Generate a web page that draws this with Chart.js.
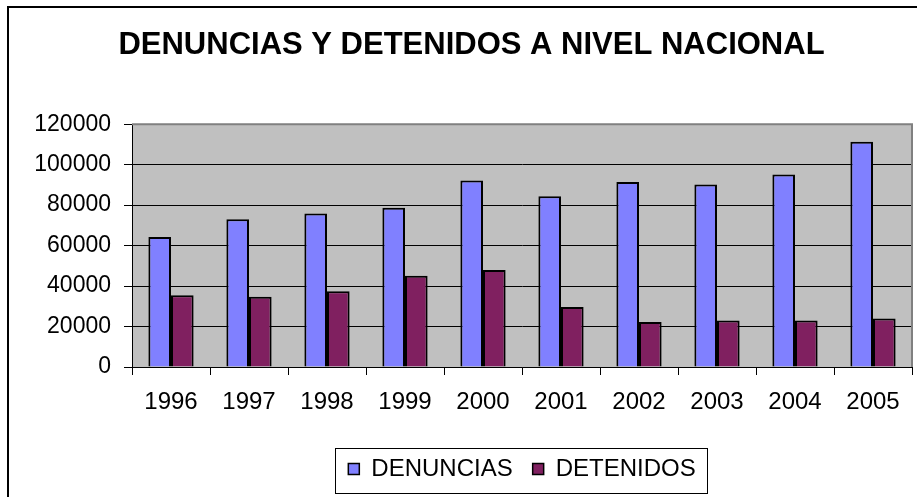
<!DOCTYPE html>
<html>
<head>
<meta charset="utf-8">
<script src="https://cdn.jsdelivr.net/npm/chart.js@4"></script>
<style>
  html, body { margin: 0; padding: 0; background: #fff; }
  #wrap { width: 917px; height: 497px; }
</style>
</head>
<body>
<div id="wrap"><canvas id="chartCanvas" width="917" height="497"></canvas></div>
<script>
// --- data ---
const years = ['1996', '1997', '1998', '1999', '2000', '2001', '2002', '2003', '2004', '2005'];
const denuncias = [64300, 73000, 75900, 78700, 92200, 84400, 91400, 90200, 95100, 111300];
const detenidos = [35500, 34700, 37400, 45100, 47900, 29600, 22200, 23000, 23000, 24000];
const yTicks = [0, 20000, 40000, 60000, 80000, 100000, 120000];

const FONT = 'Arial, "Liberation Sans", sans-serif';

// frame around the whole chart, gray plot background, border round legend
const decor = {
    id: 'decor',
    beforeDraw(chart) {
        const c = chart.ctx;
        const a = chart.chartArea;
        c.save();
        c.fillStyle = '#fff';
        c.fillRect(0, 0, chart.width, chart.height);
        c.strokeStyle = '#000';
        c.lineWidth = 2;
        c.beginPath();
        c.moveTo(8, chart.height + 2);
        c.lineTo(8, 7);
        c.lineTo(chart.width + 2, 7);
        c.stroke();
        c.fillStyle = '#c0c0c0';
        c.fillRect(a.left, a.top, a.right - a.left, a.bottom - a.top);
        c.restore();
    },
    afterDraw(chart) {
        const c = chart.ctx;
        const a = chart.chartArea;
        c.save();
        // plot border top/right
        c.strokeStyle = '#808080';
        c.lineWidth = 2;
        c.beginPath();
        c.moveTo(a.left, a.top);
        c.lineTo(a.right, a.top);
        c.lineTo(a.right, a.bottom);
        c.stroke();
        // legend box
        const lg = chart.legend;
        if (lg && lg.legendHitBoxes.length) {
            const hb = lg.legendHitBoxes;
            const last = hb[hb.length - 1];
            const x0 = hb[0].left - 13;
            const x1 = last.left + last.width + 12;
            const y0 = hb[0].top - 9;
            const y1 = hb[0].top + hb[0].height + 12;
            c.strokeStyle = '#000';
            c.lineWidth = 1;
            c.strokeRect(Math.round(x0) + 0.5, Math.round(y0) + 0.5, Math.round(x1 - x0), Math.round(y1 - y0));
        }
        c.restore();
    }
};

new Chart(document.getElementById('chartCanvas').getContext('2d'), {
    type: 'bar',
    data: {
        labels: years,
        datasets: [
            { label: 'DENUNCIAS', data: denuncias, backgroundColor: '#8080ff', borderColor: '#000', borderWidth: 2 },
            { label: 'DETENIDOS', data: detenidos, backgroundColor: '#802060', borderColor: '#000', borderWidth: 2 }
        ]
    },
    options: {
        responsive: false,
        animation: false,
        layout: { padding: { left: 31, right: 5, top: 10, bottom: 6 } },
        datasets: { bar: { categoryPercentage: 0.58, barPercentage: 1.0 } },
        scales: {
            x: {
                grid: { display: true, offset: true, drawOnChartArea: false, color: '#000', tickLength: 8, lineWidth: 1 },
                border: { display: true, color: '#000', width: 1 },
                ticks: { color: '#000', font: { family: FONT, size: 24 }, padding: 13 },
                afterFit(scale) { scale.height = 70; }
            },
            y: {
                min: 0,
                max: 120000,
                afterBuildTicks(scale) { scale.ticks = yTicks.map(v => ({ value: v })); },
                grid: { color: '#000', tickLength: 8, lineWidth: 1 },
                border: { display: true, color: '#000', width: 1 },
                ticks: { color: '#000', font: { family: FONT, size: 23 }, padding: 13, callback: v => String(v) },
                afterFit(scale) { scale.width = 101; }
            }
        },
        plugins: {
            title: {
                display: true,
                text: 'DENUNCIAS Y DETENIDOS A NIVEL NACIONAL',
                color: '#000',
                font: { family: FONT, size: 31, weight: 'bold' },
                padding: { top: 17, bottom: 60 }
            },
            legend: {
                position: 'bottom',
                fullSize: false,
                labels: {
                    color: '#000',
                    font: { family: FONT, size: 24 },
                    boxWidth: 11,
                    boxHeight: 11,
                    padding: 20,
                    generateLabels(chart) {
                        return chart.data.datasets.map((ds, i) => ({
                            text: ds.label,
                            fillStyle: ds.backgroundColor,
                            strokeStyle: '#000',
                            lineWidth: 1.5,
                            datasetIndex: i,
                            hidden: false
                        }));
                    }
                }
            },
            tooltip: { enabled: false }
        }
    },
    plugins: [decor]
});
</script>
</body>
</html>
